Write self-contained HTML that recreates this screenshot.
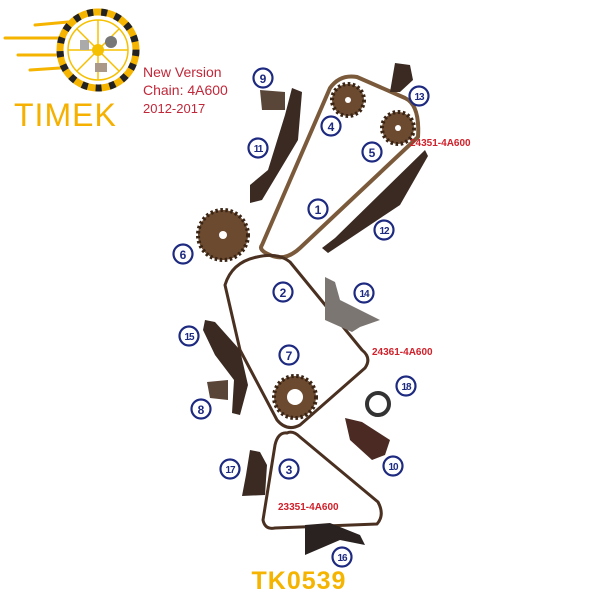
<!DOCTYPE html>
<html><head><style>
body{margin:0;background:#fff;width:600px;height:600px;overflow:hidden}
svg{display:block}
</style></head><body>
<svg width="600" height="600" xmlns="http://www.w3.org/2000/svg" font-family="Liberation Sans, sans-serif">
<g stroke="#f5b400" stroke-width="3" stroke-linecap="round">
<line x1="35" y1="25" x2="68" y2="22"/><line x1="5" y1="38" x2="62" y2="38"/><line x1="18" y1="55" x2="58" y2="55"/><line x1="30" y1="70" x2="60" y2="68"/>
</g>
<circle cx="98" cy="50" r="38" fill="none" stroke="#f5b400" stroke-width="7"/>
<circle cx="98" cy="50" r="38" fill="none" stroke="#222" stroke-width="7" stroke-dasharray="6 8"/>
<circle cx="98" cy="50" r="30" fill="none" stroke="#f5c000" stroke-width="1.5"/>
<g stroke="#f5c000" stroke-width="1.5"><line x1="98" y1="20" x2="98" y2="80"/><line x1="68" y1="50" x2="128" y2="50"/><line x1="77" y1="29" x2="119" y2="71"/><line x1="119" y1="29" x2="77" y2="71"/></g>
<circle cx="98" cy="50" r="6" fill="#f5c000"/>
<rect x="80" y="40" width="9" height="10" fill="#aaa"/><circle cx="111" cy="42" r="6" fill="#777"/><rect x="95" y="63" width="12" height="9" fill="#a98"/>
<text x="14" y="126" font-size="32" fill="#f5b000" letter-spacing="1">TIMEK</text>
<g fill="#c0283a" font-size="14"><text x="143" y="77">New Version</text><text x="143" y="95">Chain:  4A600</text><text x="143" y="113" font-size="13">2012-2017</text></g>
<g fill="#6b4a30" stroke="#3a2414" stroke-width="4" stroke-dasharray="2.5 2.5">
<circle cx="348" cy="100" r="16"/><circle cx="398" cy="128" r="16"/><circle cx="223" cy="235" r="25"/><circle cx="295" cy="397" r="21"/>
</g>
<g fill="#fff"><circle cx="348" cy="100" r="3"/><circle cx="398" cy="128" r="3"/><circle cx="223" cy="235" r="4"/><circle cx="295" cy="397" r="8"/></g>
<g fill="none" stroke="#4a3020" stroke-width="3" stroke-linejoin="round">
<path d="M262,245 L330,88 Q340,74 357,77 L405,98 Q420,105 418,137 L300,248 Q285,262 270,255 Q258,250 262,245 Z" stroke="#7a5a3a" stroke-width="4"/>
<path d="M257,257 Q232,262 225,285 L240,350 L277,420 Q287,432 300,425 L365,368 Q372,358 362,350 L290,262 Q278,252 257,257 Z"/>
<path d="M287,433 Q278,432 275,445 L263,520 Q265,530 275,528 L377,524 Q385,515 378,502 L300,437 Q293,430 287,433 Z"/>
</g>
<circle cx="378" cy="404" r="11" fill="none" stroke="#333" stroke-width="4"/>
<g fill="#3a2a22">
<path d="M292,88 L302,92 L298,140 L262,200 L250,203 L250,185 L268,170 L285,115 Z"/>
<path d="M425,150 L428,156 L400,205 L328,253 L322,248 L335,238 Z"/>
<path d="M395,63 L410,65 L413,80 L400,92 L390,92 Z"/>
<path d="M205,320 L215,322 L240,350 L248,385 L240,415 L232,413 L234,380 L215,355 L203,330 Z"/>
<path d="M260,90 L285,92 L285,110 L262,110 Z" fill="#5a4638"/>
<path d="M207,382 L228,380 L228,400 L210,398 Z" fill="#5a4638"/>
<path d="M325,277 L335,282 L340,300 L380,320 L360,327 L352,332 L325,320 Z" fill="#7b7672"/>
<path d="M345,418 L362,422 L390,440 L385,455 L372,460 L350,440 Z" fill="#4a2a22"/>
<path d="M250,450 L260,452 L267,465 L265,495 L242,496 L246,475 Z"/>
<path d="M305,525 L330,523 L360,535 L365,545 L340,540 L305,555 Z" fill="#2a2220"/>
</g>
<g fill="#fff" stroke="#1d2a80" stroke-width="2.2">
<circle cx="318" cy="209" r="9.5"/><circle cx="283" cy="292" r="9.5"/><circle cx="289" cy="469" r="9.5"/><circle cx="331" cy="126" r="9.5"/><circle cx="372" cy="152" r="9.5"/><circle cx="183" cy="254" r="9.5"/><circle cx="289" cy="355" r="9.5"/><circle cx="201" cy="409" r="9.5"/><circle cx="263" cy="78" r="9.5"/><circle cx="393" cy="466" r="9.5"/><circle cx="258" cy="148" r="9.5"/><circle cx="384" cy="230" r="9.5"/><circle cx="419" cy="96" r="9.5"/><circle cx="364" cy="293" r="9.5"/><circle cx="189" cy="336" r="9.5"/><circle cx="342" cy="557" r="9.5"/><circle cx="230" cy="469" r="9.5"/><circle cx="406" cy="386" r="9.5"/>
</g>
<g fill="#1d2a80" font-size="12" font-weight="bold" text-anchor="middle">
<text x="318" y="214">1</text><text x="283" y="297">2</text><text x="289" y="474">3</text><text x="331" y="131">4</text><text x="372" y="157">5</text><text x="183" y="259">6</text><text x="289" y="360">7</text><text x="201" y="414">8</text><text x="263" y="83">9</text>
<g font-size="10" letter-spacing="-1"><text x="393" y="470">10</text><text x="258" y="152">11</text><text x="384" y="234">12</text><text x="419" y="100">13</text><text x="364" y="297">14</text><text x="189" y="340">15</text><text x="342" y="561">16</text><text x="230" y="473">17</text><text x="406" y="390">18</text></g>
</g>
<g fill="#d0202a" font-size="10" font-weight="bold">
<text x="410" y="146">24351-4A600</text><text x="372" y="355">24361-4A600</text><text x="278" y="510">23351-4A600</text>
</g>
<text x="299" y="589" font-size="25" font-weight="bold" fill="#f5b400" text-anchor="middle" letter-spacing="1">TK0539</text>
</svg>
</body></html>
